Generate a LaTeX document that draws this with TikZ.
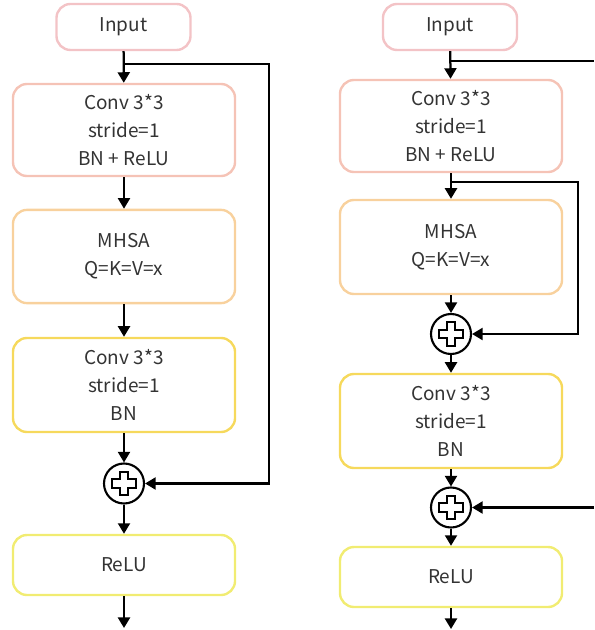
\documentclass[tikz,border=0pt]{standalone}
\usepackage{fontspec}
\setmainfont{Noto Sans CJK SC}
\usetikzlibrary{arrows.meta, calc}

\definecolor{inpink}{HTML}{F3C3C6}
\definecolor{convpink}{HTML}{F5C3B6}
\definecolor{mhsaorange}{HTML}{F8D19D}
\definecolor{convyellow}{HTML}{F6D95C}
\definecolor{reluyellow}{HTML}{F1EC72}
\definecolor{txtgray}{HTML}{333333}

\tikzset{
    blk/.style={draw, line width=1.7pt, rounded corners=10pt, align=center,
        minimum width=5.55cm, text=txtgray, font=\fontsize{13.5}{19.8}\selectfont},
    inbox/.style={blk, draw=inpink, minimum width=3.35cm, minimum height=1.15cm},
    sumnode/.style={circle, draw, line width=1.5pt, minimum size=1cm, inner sep=0pt,
        path picture={
            \draw[line width=1.4pt] (path picture bounding box.center)
                ++(-2.9pt,8.4pt) -- ++(5.8pt,0) -- ++(0,-5.5pt) -- ++(5.5pt,0)
                -- ++(0,-5.8pt) -- ++(-5.5pt,0) -- ++(0,-5.5pt) -- ++(-5.8pt,0)
                -- ++(0,5.5pt) -- ++(-5.5pt,0) -- ++(0,5.8pt) -- ++(5.5pt,0) -- cycle;
        }},
    flow/.style={->, line width=1.6pt}
}

\begin{document}
\begin{tikzpicture}[x=0.025cm, y=-0.025cm, >={Triangle[length=7.5pt,width=8.5pt]}]
    \useasboundingbox (0,0) rectangle (594,630);

    % left block
    \node[inbox] (inL) at (123.5,27) {Input};
    \node[blk, draw=convpink, minimum height=2.3cm] (convL) at (124,130) {Conv 3*3\\stride=1\\BN + ReLU};
    \node[blk, draw=mhsaorange, minimum height=2.33cm] (mhsaL) at (124,256.5) {MHSA\\Q=K=V=x};
    \node[blk, draw=convyellow, minimum height=2.35cm] (conv2L) at (124,385) {Conv 3*3\\stride=1\\BN};
    \node[sumnode] (sumL) at (124,483.5) {};
    \node[blk, draw=reluyellow, minimum height=1.5cm] (reluL) at (124,565) {ReLU};
    \coordinate (outL) at (124,628);
    \coordinate (brL) at (124,64);
    \coordinate (sideL) at (269,0);

    \draw[flow] (inL) -- (convL);
    \draw[flow] (convL) -- (mhsaL);
    \draw[flow] (mhsaL) -- (conv2L);
    \draw[flow] (conv2L) -- (sumL);
    \draw[flow] (sumL) -- (reluL);
    \draw[flow] (reluL) -- (outL);
    \draw[flow] (brL) -- (brL -| sideL) |- (sumL);

    % right block
    \node[inbox] (inR) at (450,27) {Input};
    \node[blk, draw=convpink, minimum height=2.3cm] (convR) at (451,126) {Conv 3*3\\stride=1\\BN + ReLU};
    \node[blk, draw=mhsaorange, minimum height=2.35cm] (mhsaR) at (451,247) {MHSA\\Q=K=V=x};
    \node[sumnode] (sum1R) at (451,334) {};
    \node[blk, draw=convyellow, minimum height=2.35cm] (conv2R) at (451,421) {Conv 3*3\\stride=1\\BN};
    \node[sumnode] (sum2R) at (451,507.5) {};
    \node[blk, draw=reluyellow, minimum height=1.5cm] (reluR) at (451,577) {ReLU};
    \coordinate (outR) at (451,629);
    \coordinate (brR) at (451,61);
    \coordinate (brR2) at (451,182);
    \coordinate (sideR) at (578,0);
    \coordinate (edgeR) at (594,0);

    \draw[flow] (inR) -- (convR);
    \draw[flow] (convR) -- (mhsaR);
    \draw[flow] (mhsaR) -- (sum1R);
    \draw[flow] (sum1R) -- (conv2R);
    \draw[flow] (conv2R) -- (sum2R);
    \draw[flow] (sum2R) -- (reluR);
    \draw[flow] (reluR) -- (outR);
    \draw[line width=1.6pt] (brR) -- (brR -| edgeR);
    \draw[flow] (brR2) -- (brR2 -| sideR) |- (sum1R);
    \draw[flow] (sum2R -| edgeR) -- (sum2R);
\end{tikzpicture}
\end{document}
